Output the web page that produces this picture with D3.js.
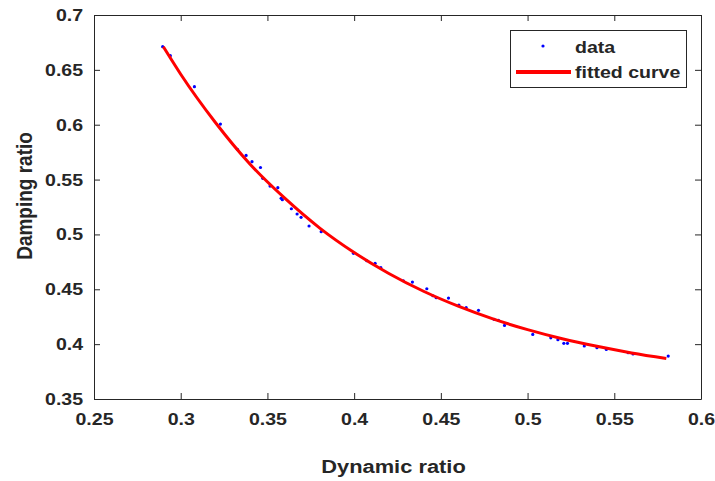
<!DOCTYPE html>
<html>
<head>
<meta charset="utf-8">
<script src="https://cdn.jsdelivr.net/npm/d3@7"></script>
<style>
  body { margin: 0; background: #fff; }
  svg text { font-family: "Liberation Sans", Arial, sans-serif; font-weight: bold; fill: #262626; }
</style>
</head>
<body>
<svg id="chart" width="715" height="481"></svg>
<script>
// measured points (dynamic ratio, damping ratio)
const dataX = [0.2896, 0.294, 0.3079, 0.3229, 0.3327, 0.3377, 0.3411, 0.346, 0.3473, 0.3515,
  0.356, 0.3579, 0.3586, 0.3638, 0.3671, 0.3694, 0.374, 0.381, 0.3996, 0.4073,
  0.4121, 0.4154, 0.4284, 0.4336, 0.4419, 0.4454, 0.4473, 0.4544, 0.4604, 0.4646,
  0.4717, 0.4807, 0.4832, 0.4867, 0.503, 0.5134, 0.5175, 0.5209, 0.523, 0.5327,
  0.54, 0.5454, 0.558, 0.5608, 0.5811];
const dataY = [0.6711, 0.6629, 0.6347, 0.6006, 0.5776, 0.572, 0.5663, 0.561, 0.5511, 0.5441,
  0.5426, 0.5329, 0.5316, 0.5234, 0.5186, 0.5156, 0.5077, 0.5025, 0.4828, 0.476,
  0.4737, 0.4697, 0.4578, 0.4566, 0.4505, 0.4441, 0.4423, 0.442, 0.4356, 0.4332,
  0.4308, 0.4226, 0.4217, 0.4171, 0.4089, 0.4058, 0.404, 0.4007, 0.4007, 0.3983,
  0.3967, 0.3952, 0.3922, 0.391, 0.3891];

// fitted curve
const fitX = [0.29, 0.30, 0.32, 0.34, 0.36, 0.38, 0.40, 0.42, 0.44, 0.46, 0.48, 0.50, 0.52, 0.54, 0.56, 0.58];
const fitY = [0.671, 0.646, 0.602, 0.564, 0.533, 0.506, 0.4835, 0.4644, 0.4482, 0.4346, 0.423, 0.4132, 0.4049, 0.398, 0.392, 0.387];

const xTicks = [0.25, 0.3, 0.35, 0.4, 0.45, 0.5, 0.55, 0.6];
const xTickLabels = ["0.25", "0.3", "0.35", "0.4", "0.45", "0.5", "0.55", "0.6"];
const yTicks = [0.35, 0.4, 0.45, 0.5, 0.55, 0.6, 0.65, 0.7];
const yTickLabels = ["0.35", "0.4", "0.45", "0.5", "0.55", "0.6", "0.65", "0.7"];

const plotLeft = 94, plotRight = 701, plotTop = 15, plotBottom = 399;
const stretch = 1.15; // the picture is widened a bit

const svg = d3.select("#chart");
const x = d3.scaleLinear().domain([0.25, 0.6]).range([plotLeft, plotRight]);
const y = d3.scaleLinear().domain([0.35, 0.7]).range([plotBottom, plotTop]);
const axisColor = "#262626";

function styleAxis(g) {
  g.selectAll("path").attr("stroke", axisColor).attr("stroke-width", 1);
  g.selectAll("line").attr("stroke", axisColor).attr("stroke-width", 1);
  g.selectAll("text").attr("fill", axisColor).style("font-size", "17px");
}

// bottom & top axes (ticks inward)
const gx = svg.append("g").attr("transform", `translate(0,${plotBottom})`)
  .call(d3.axisBottom(x).tickValues(xTicks).tickFormat((d, i) => xTickLabels[i])
    .tickSizeInner(-6).tickSizeOuter(0).tickPadding(14));
styleAxis(gx);
gx.selectAll("text").attr("transform", `scale(${stretch},1)`).attr("dy", "0.72em");

svg.append("g").attr("transform", `translate(0,${plotTop})`)
  .call(d3.axisTop(x).tickValues(xTicks).tickFormat("").tickSizeInner(-6).tickSizeOuter(0))
  .call(styleAxis);

const gy = svg.append("g").attr("transform", `translate(${plotLeft},0)`)
  .call(d3.axisLeft(y).tickValues(yTicks).tickFormat((d, i) => yTickLabels[i])
    .tickSizeInner(-6).tickSizeOuter(0).tickPadding(3));
styleAxis(gy);
gy.selectAll("text").attr("transform", `scale(${stretch},1)`).attr("x", -9.5);

svg.append("g").attr("transform", `translate(${plotRight},0)`)
  .call(d3.axisRight(y).tickValues(yTicks).tickFormat("").tickSizeInner(-6).tickSizeOuter(0))
  .call(styleAxis);

// axis titles
svg.append("text")
  .attr("transform", `translate(${(plotLeft + plotRight) / 2 - 4},473) scale(${stretch},1)`)
  .attr("text-anchor", "middle")
  .style("font-size", "19px")
  .text("Dynamic ratio");

svg.append("text")
  .attr("transform", `translate(32,196) scale(${stretch},1) rotate(-90)`)
  .attr("text-anchor", "middle")
  .style("font-size", "19px")
  .text("Damping ratio");

// data points
const pts = dataX.map((d, i) => ({x: d, y: dataY[i]}));
svg.append("g").selectAll("circle")
  .data(pts)
  .enter().append("circle")
  .attr("cx", d => x(d.x))
  .attr("cy", d => y(d.y))
  .attr("r", 1.6)
  .attr("fill", "#0000ff");

// fitted curve
const fit = fitX.map((d, i) => ({x: d, y: fitY[i]}));
const line = d3.line().x(d => x(d.x)).y(d => y(d.y)).curve(d3.curveMonotoneX);
svg.append("path")
  .datum(fit)
  .attr("d", line)
  .attr("fill", "none")
  .attr("stroke", "#ff0000")
  .attr("stroke-width", 3);

// legend
const legend = svg.append("g");
legend.append("rect")
  .attr("x", 510.5).attr("y", 30.5)
  .attr("width", 176).attr("height", 57)
  .attr("fill", "#fff")
  .attr("stroke", axisColor)
  .attr("stroke-width", 1);
legend.append("circle")
  .attr("cx", 543).attr("cy", 46).attr("r", 1.6)
  .attr("fill", "#0000ff");
legend.append("line")
  .attr("x1", 516).attr("x2", 571).attr("y1", 72).attr("y2", 72)
  .attr("stroke", "#ff0000").attr("stroke-width", 4);
legend.append("text")
  .attr("transform", `translate(575,53) scale(${stretch},1)`)
  .style("font-size", "17px")
  .attr("fill", "#000")
  .text("data");
legend.append("text")
  .attr("transform", `translate(575,78) scale(${stretch},1)`)
  .style("font-size", "17px")
  .attr("fill", "#000")
  .text("fitted curve");
</script>
</body>
</html>
